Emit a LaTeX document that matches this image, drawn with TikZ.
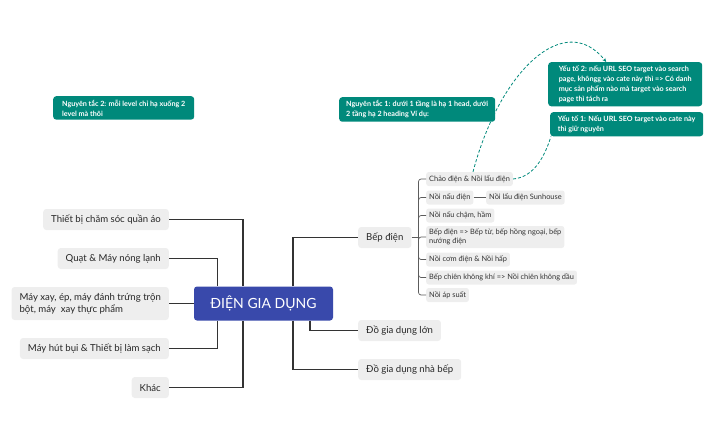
\documentclass[tikz,border=0pt]{standalone}
\usepackage{fontspec}
\setmainfont{Lato}
\usepackage{tikz}
\usetikzlibrary{arrows.meta,calc}
\definecolor{mainblue}{HTML}{3949AB}
\definecolor{notegreen}{HTML}{00897B}
\definecolor{topicgray}{HTML}{EEEEEE}
\definecolor{linegray}{HTML}{333333}
\tikzset{
  topic/.style={fill=topicgray, rounded corners=3pt, minimum height=21pt, inner xsep=8pt, inner ysep=3pt, text=black!85, font=\fontsize{9.6}{12}\selectfont},
  subtopic/.style={fill=topicgray, rounded corners=2.5pt, minimum height=14pt, inner xsep=3pt, inner ysep=2pt, anchor=west, text=black!80, font=\fontsize{7.4}{9}\selectfont},
  note/.style={fill=notegreen, rounded corners=3pt, inner xsep=4pt, inner ysep=3.5pt, anchor=north west, align=left, text=white, font=\bfseries\fontsize{7.2}{10}\selectfont},
  branch/.style={draw=linegray, line width=1.1pt},
  twig/.style={draw=linegray!80, line width=0.7pt, rounded corners=2.5pt},
  link/.style={draw=notegreen, line width=0.8pt, dash pattern=on 3pt off 2pt}
}
\begin{document}
\begin{tikzpicture}[x=1pt,y=-1pt]
    \useasboundingbox (0,0) rectangle (708,439);
    \node[fill=mainblue, rounded corners=3pt, minimum width=139pt, minimum height=34pt, text=white, font=\fontsize{14}{16}\selectfont] (main) at (263.5,303.5) {ĐIỆN GIA DỤNG};

    % left branches
    \node[topic, anchor=east] (care) at (169,219.5) {Thiết bị chăm sóc quần áo};
    \node[topic, anchor=east] (fan) at (169,258.5) {Quạt \& Máy nóng lạnh};
    \node[topic, anchor=east, align=left, minimum height=33pt] (mixer) at (169,303.5) {Máy xay, ép, máy đánh trứng trộn\\bột, máy\ \ xay thực phẩm};
    \node[topic, anchor=east] (clean) at (169,348.5) {Máy hút bụi \& Thiết bị làm sạch};
    \node[topic, anchor=east] (other) at (169,387.5) {Khác};
    \draw[branch] (care.east) -| ([xshift=-20.5pt]main.north);
    \draw[branch] (fan.east) -| ([xshift=-46pt]main.north);
    \draw[branch] (mixer.east) -- (main.west);
    \draw[branch] (clean.east) -| ([xshift=-46pt]main.south);
    \draw[branch] (other.east) -| ([xshift=-20.5pt]main.south);

    % right branches
    \node[topic, anchor=west] (bep) at (358,237.5) {Bếp điện};
    \node[topic, anchor=west] (lon) at (358,330.5) {Đồ gia dụng lớn};
    \node[topic, anchor=west] (nhabep) at (358,369.5) {Đồ gia dụng nhà bếp};
    \draw[branch] ([xshift=29.5pt]main.north) |- (bep.west);
    \draw[branch] ([xshift=46.5pt]main.south) |- (lon.west);
    \draw[branch] ([xshift=29.5pt]main.south) |- (nhabep.west);

    % Bep dien
    \node[subtopic] (chao) at (426,179) {Chảo điện \& Nồi lẩu điện};
    \node[subtopic] (noinau) at (426,197.5) {Nồi nấu điện};
    \node[subtopic] (sunhouse) at (486,197.5) {Nồi lẩu điện Sunhouse};
    \node[subtopic] (cham) at (426,215.5) {Nồi nấu chậm, hầm};
    \node[subtopic, align=left, minimum height=22pt] (beptu) at (426,237) {Bếp điện => Bếp từ, bếp hồng ngoại, bếp\\nướng điện};
    \node[subtopic] (com) at (426,259.5) {Nồi cơm điện \& Nồi hấp};
    \node[subtopic] (chien) at (426,277.5) {Bếp chiên không khí => Nồi chiên không dầu};
    \node[subtopic] (apsuat) at (426,295) {Nồi áp suất};
    \coordinate (fork) at ([xshift=7pt]bep.east);
    \draw[twig] (bep.east) -- (fork);
    \foreach \sub in {chao,noinau,cham,beptu,com,chien,apsuat}
        \draw[twig] (fork) |- (\sub.west);
    \draw[twig] (noinau.east) -- (sunhouse.west);

    % notes
    \node[note, minimum width=141pt] (rule2) at (53,96) {Nguyên tắc 2: mỗi level chỉ hạ xuống 2\\level mà thôi};
    \node[note, minimum width=156pt] (rule1) at (339,97) {Nguyên tắc 1: dưới 1 tầng là hạ 1 head, dưới\\2 tầng hạ 2 heading Ví dụ:};
    \node[note, minimum width=154pt] (factor2) at (548,62) {Yếu tố 2: nếu URL SEO target vào search\\page, khôngg vào cate này thì => Có danh\\mục sản phẩm nào mà target vào search\\page thì tách ra};
    \node[note, minimum width=153pt] (factor1) at (550,112) {Yếu tố 1: Nếu URL SEO target vào cate này\\thì giữ nguyên};
    \draw[link, -{Stealth[length=4pt,width=3.5pt]}] ([xshift=47pt]chao.north west) .. controls (500,70) and (565,10) .. ([xshift=-19pt]factor2.north);
    \draw[link] (chao.east) .. controls (535,177) and (545,155) .. ([xshift=1pt]factor1.south west);
\end{tikzpicture}
\end{document}
